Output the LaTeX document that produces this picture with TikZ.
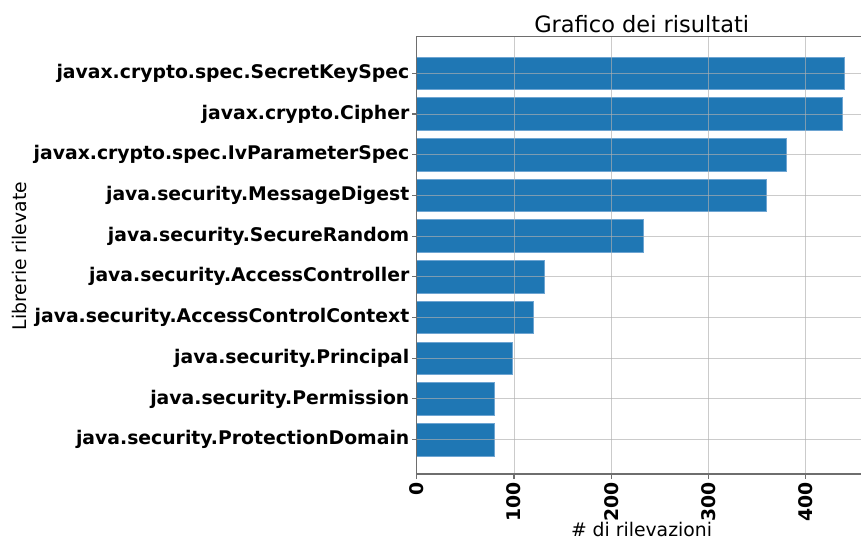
\documentclass[tikz,border=0pt]{standalone}
\usepackage{fontspec}
\setmainfont{DejaVu Sans}
\definecolor{barblue}{RGB}{31,119,180}
\definecolor{baredge}{RGB}{110,165,210}
\definecolor{gridgray}{RGB}{176,176,176}
\definecolor{spinegray}{RGB}{110,110,110}
\tikzset{
  barbox/.style={fill=barblue, draw=baredge, line width=0.8pt},
  gridline/.style={draw=gridgray, line width=1pt, opacity=0.65},
  spine/.style={draw=spinegray, line width=1.1pt},
  tickmark/.style={draw=spinegray, line width=1.1pt},
  ylab/.style={anchor=east, inner sep=0pt, font=\fontsize{18.8}{20}\selectfont\bfseries},
  xlab/.style={anchor=east, rotate=90, inner sep=0pt, font=\fontsize{18.8}{20}\selectfont\bfseries},
  axtitle/.style={inner sep=0pt, font=\fontsize{18.8}{20}\selectfont},
  charttitle/.style={inner sep=0pt, font=\fontsize{22.5}{24}\selectfont}
}
\begin{document}
\begin{tikzpicture}[x=1pt,y=-1pt]
\useasboundingbox[fill=white] (0,0) rectangle (861,539);
% bars
\foreach \v [count=\i from 0] in {440,437,380,359,233,131,120,98,80,80} {
  \pgfmathsetmacro{\yc}{73.3+\i*40.7}
  \pgfmathsetmacro{\xe}{416.7+\v*0.973}
  \path[barbox] (416.7,\yc-16.3) rectangle (\xe,\yc+16.3);
}
% grid
\foreach \k in {1,2,3,4} {
  \pgfmathsetmacro{\xg}{416.7+\k*97.3}
  \path[gridline] (\xg,36.3) -- (\xg,474);
}
\foreach \i in {0,...,9} {
  \pgfmathsetmacro{\yc}{73.3+\i*40.7}
  \path[gridline] (416.7,\yc) -- (861,\yc);
}
% spines
\path[spine] (416.7,474) -- (416.7,36.3) -- (861,36.3);
\path[spine] (416.7,474) -- (861,474);
% ticks and labels
\foreach \k/\lab in {0/0,1/100,2/200,3/300,4/400} {
  \pgfmathsetmacro{\xg}{416.7+\k*97.3}
  \path[tickmark] (\xg,474) -- (\xg,479);
  \node[xlab] (xt\k) at (\xg,482.5) {\lab};
}
\foreach \lab [count=\i from 0] in {javax.crypto.spec.SecretKeySpec,javax.crypto.Cipher,javax.crypto.spec.IvParameterSpec,java.security.MessageDigest,java.security.SecureRandom,java.security.AccessController,java.security.AccessControlContext,java.security.Principal,java.security.Permission,java.security.ProtectionDomain} {
  \pgfmathsetmacro{\yc}{73.3+\i*40.7}
  \path[tickmark] (416.7,\yc) -- (411.7,\yc);
  \node[ylab] (yt\i) at (409.5,\yc) {\lab};
}
\node[charttitle, anchor=base] (title) at (641.7,32.5) {Grafico dei risultati};
\node[axtitle, anchor=base] (xlabel) at (641.5,536) {\# di rilevazioni};
\node[axtitle, anchor=base, rotate=90] (ylabel) at (27,256) {Librerie rilevate};
\end{tikzpicture}
\end{document}
